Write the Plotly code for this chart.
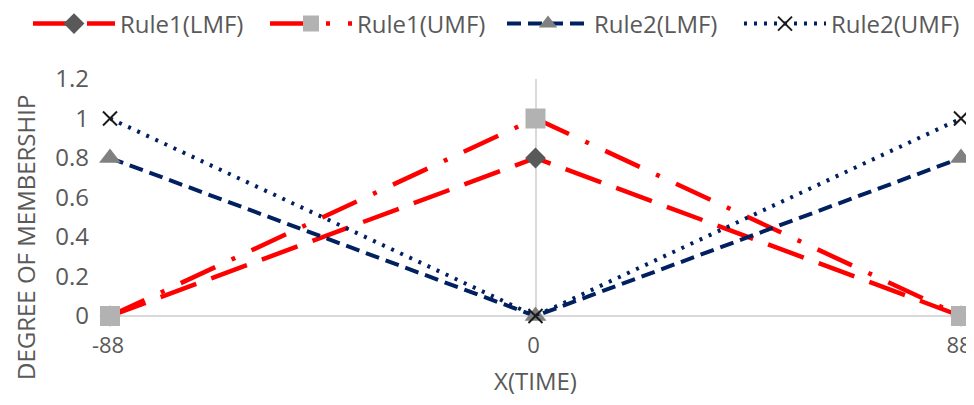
import plotly.graph_objects as go

x_vals = [-88, 0, 88]
tick_labels = ["-88", "0", "88"]
rule1_lmf = [0, 0.8, 0]
rule1_umf = [0, 1, 0]
rule2_lmf = [0.8, 0, 0.8]
rule2_umf = [1, 0, 1]

FONT = "Open Sans"
GRAY = "#595959"

# page body has an 8px margin: figure is placed at (8,8)
W, H = 966, 389
L, R, T, B = 102, 13, 71, 81
PW, PH = W - L - R, H - T - B

fig = go.Figure()
fig.add_trace(go.Scatter(
    x=x_vals, y=rule1_lmf, name="Rule1(LMF)", mode="lines+markers",
    line=dict(color="#ff0000", width=4.5, dash="38px,16px"),
    marker=dict(symbol="diamond", size=16, color="#595959"),
    cliponaxis=False))
fig.add_trace(go.Scatter(
    x=x_vals, y=rule1_umf, name="Rule1(UMF)", mode="lines+markers",
    line=dict(color="#ff0000", width=4.5, dash="38px,18px,4px,18px"),
    marker=dict(symbol="square", size=20, color="#b2b2b2"),
    cliponaxis=False))
fig.add_trace(go.Scatter(
    x=x_vals, y=rule2_lmf, name="Rule2(LMF)", mode="lines+markers",
    line=dict(color="#002060", width=4, dash="14px,7px"),
    marker=dict(symbol="triangle-up", size=19, color="#808080"),
    cliponaxis=False))
fig.add_trace(go.Scatter(
    x=x_vals, y=rule2_umf, name="Rule2(UMF)", mode="lines+markers",
    line=dict(color="#002060", width=4, dash="3px,7px"),
    marker=dict(symbol="x-thin", size=14, color="#000000",
                line=dict(color="#1a1a1a", width=2)),
    cliponaxis=False))

fig.update_layout(
    width=W, height=H,
    margin=dict(l=L, r=R, t=T, b=B, autoexpand=False),
    paper_bgcolor="white", plot_bgcolor="white",
    font=dict(family=FONT, size=24, color=GRAY),
    showlegend=True,
    legend=dict(orientation="h", xref="paper", yref="paper",
                x=(20 - L) / PW, y=(PH + T - 16) / PH, xanchor="left", yanchor="middle",
                itemwidth=82, entrywidth=140, entrywidthmode="pixels",
                font=dict(size=24, color=GRAY),
                tracegroupgap=0, bgcolor="rgba(0,0,0,0)"),
    xaxis=dict(range=[-88, 88], tickvals=x_vals, ticktext=tick_labels,
               showgrid=True, gridcolor="#d9d9d9", gridwidth=1.5,
               zeroline=False, showline=False, ticks="", automargin=False,
               ticklabelstandoff=14, ticklabelshift=-2, ticklabeloverflow="allow",
               tickfont=dict(size=22, color=GRAY),
               title=dict(text="X(TIME)", font=dict(size=24, color=GRAY), standoff=16)),
    yaxis=dict(range=[0, 1.2], tickvals=[0, 0.2, 0.4, 0.6, 0.8, 1, 1.2],
               ticktext=["0", "0.2", "0.4", "0.6", "0.8", "1", "1.2"],
               showgrid=False, zeroline=True, zerolinecolor="#d9d9d9", zerolinewidth=1.5,
               showline=False, ticks="", ticklabelstandoff=20, automargin=False,
               tickfont=dict(size=24, color=GRAY)),
    annotations=[dict(text="DEGREE OF MEMBERSHIP", textangle=-90,
                      xref="paper", yref="paper", x=(17 - L) / PW, y=(H - B - 230) / PH,
                      xanchor="center", yanchor="middle", showarrow=False,
                      font=dict(size=24, color=GRAY))]
)

fig.write_html("out.html")
